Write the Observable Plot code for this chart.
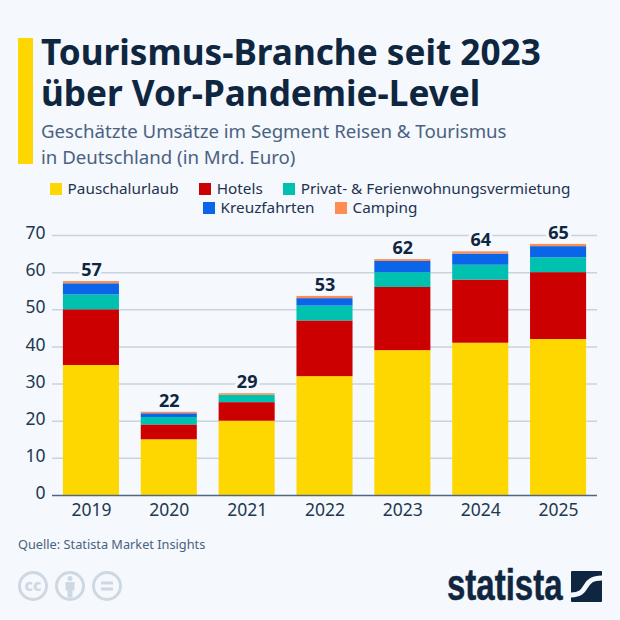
<!DOCTYPE html>
<html><head><meta charset="utf-8">
<script src="https://cdn.jsdelivr.net/npm/d3@7"></script>
<script src="https://cdn.jsdelivr.net/npm/@observablehq/plot@0.6"></script>
<style>
html,body{margin:0;padding:0;background:#f5f8fc;}
body{width:620px;height:620px;position:relative;overflow:hidden;font-family:"Noto Sans",sans-serif;color:#0f2640;}
#bar{position:absolute;left:18px;top:38px;width:15px;height:126px;background:#ffd700;}
#title{position:absolute;left:41px;top:31px;font-size:35.15px;line-height:41px;font-weight:700;color:#0f2640;white-space:nowrap;}
#sub{position:absolute;left:41px;top:118px;font-size:18.65px;line-height:26px;color:#4a6280;white-space:nowrap;}
#legend{position:absolute;left:0;top:179px;width:620px;font-size:15.3px;line-height:19px;color:#1d3350;text-align:center;}
#legend .row{display:flex;justify-content:center;white-space:nowrap;}
#legend .it{display:flex;align-items:center;margin:0 10px;}
#legend i{display:inline-block;width:12px;height:12px;margin-right:6px;}
#chart{position:absolute;left:0;top:215px;}
#src{position:absolute;left:18px;top:535px;font-size:12.75px;color:#4a6280;}
#cc{position:absolute;left:18px;top:571px;display:flex;gap:7px;}
#logo{position:absolute;left:447px;top:560px;font-family:"Liberation Sans",sans-serif;font-size:44px;font-weight:700;color:#0f2640;transform:scaleX(.75);transform-origin:left top;-webkit-text-stroke:.5px #0f2640;}
#mark{position:absolute;left:571px;top:571px;}
</style></head><body>
<div id="bar"></div>
<div id="title">Tourismus-Branche seit 2023<br>über Vor-Pandemie-Level</div>
<div id="sub">Geschätzte Umsätze im Segment Reisen &amp; Tourismus<br>in Deutschland (in Mrd. Euro)</div>
<div id="legend"></div>
<div id="chart"></div>
<div id="src">Quelle: Statista Market Insights</div>
<div id="cc">
<svg width="30" height="30" viewBox="0 0 30 30"><circle cx="15" cy="15" r="13.5" fill="none" stroke="#cdd8e2" stroke-width="3"/><text x="15" y="20" text-anchor="middle" font-size="16" font-weight="800" fill="#cdd8e2" font-family="Noto Sans">cc</text></svg>
<svg width="30" height="30" viewBox="0 0 30 30"><circle cx="15" cy="15" r="13.5" fill="none" stroke="#cdd8e2" stroke-width="3"/><circle cx="15" cy="7.5" r="2.5" fill="#cdd8e2"/><path d="M10.5 11h9v8.500h-2v7h-5v-7h-2z" fill="#cdd8e2"/></svg>
<svg width="30" height="30" viewBox="0 0 30 30"><circle cx="15" cy="15" r="13.5" fill="none" stroke="#cdd8e2" stroke-width="3"/><path d="M9 10.5h12v3H9zM9 16.5h12v3H9z" fill="#cdd8e2"/></svg>
</div>
<div id="logo">statista</div>
<svg id="mark" width="31" height="31" viewBox="0 0 31 31"><rect width="31" height="31" rx="1" fill="#0f2640"/><path d="M-1 24 C10 24 12 20 15 15 C18 10 21 7 32 7" fill="none" stroke="#f5f8fc" stroke-width="5"/></svg>
<script>
const years = ["2019","2020","2021","2022","2023","2024","2025"];
const seriesNames = ["Pauschalurlaub","Hotels","Privat- & Ferienwohnungsvermietung","Kreuzfahrten","Camping"];
const colors = ["#ffd700","#cc0000","#00c1b0","#0a65e8","#ff8c50"];
const pauschal = [35,15,20,32,39,41,42];
const hotels = [15,4,5,15,17,17,18];
const privat = [4,2,2,4,4,4,4];
const kreuz = [3,1,0,2,3,3,3];
const camping = [0.6,0.4,0.4,0.6,0.5,0.6,0.6];
const totals = [57,22,29,53,62,64,65];
const yTicks = [0,10,20,30,40,50,60,70];

const seriesValues = [pauschal,hotels,privat,kreuz,camping];
const rows = seriesNames.flatMap((s,i)=>years.map((y,j)=>({year:y,series:s,value:seriesValues[i][j]})));
const stackTop = years.map((y,j)=>seriesValues.reduce((a,v)=>a+v[j],0));
const labels = years.map((y,j)=>({year:y,top:stackTop[j],total:totals[j]}));

const legendRows = [[0,1,2],[3,4]];
document.getElementById("legend").innerHTML = legendRows.map(r=>'<div class="row">'+r.map(i=>
  `<span class="it"><i style="background:${colors[i]}"></i>${seriesNames[i].replace("&","&amp;")}</span>`).join("")+'</div>').join("");

const plot = Plot.plot({
  width:620,height:300,
  marginLeft:52,marginRight:23,marginTop:20,marginBottom:20,
  style:{background:"transparent",fontFamily:"'Noto Sans',sans-serif",overflow:"visible"},
  x:{domain:years,label:null,paddingInner:0.28,paddingOuter:0.14,round:false,tickSize:0},
  y:{domain:[0,70],label:null,ticks:yTicks,tickSize:0},
  color:{domain:seriesNames,range:colors},
  marks:[
    Plot.ruleY(yTicks.filter(d=>d>0),{stroke:"#c9d3dd",strokeWidth:1.5}),
    Plot.axisY({ticks:yTicks,tickSize:0,tickPadding:7,fontSize:17.5,fill:"#22384f",label:null,marginLeft:52,dy:-2}),
    Plot.axisX({tickSize:0,tickPadding:8,fontSize:17.5,fill:"#22384f",label:null}),
    Plot.barY(rows,{x:"year",y:"value",fill:"series",order:seriesNames}),
    Plot.ruleY([0],{stroke:"#4f6782",strokeWidth:1.5}),
    Plot.text(labels,{x:"year",y:"top",text:d=>String(d.total),dy:-11.5,fontSize:18,fontWeight:700,fill:"#0f2640",stroke:"#f5f8fc",strokeWidth:6})
  ]
});
document.getElementById("chart").appendChild(plot);
</script>
</body></html>
